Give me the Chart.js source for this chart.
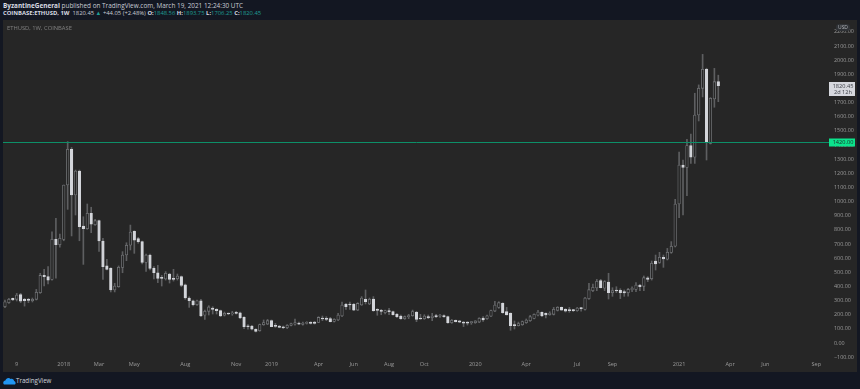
<!DOCTYPE html>
<html>
<head>
<meta charset="utf-8">
<title>ETHUSD</title>
<script src="https://cdn.jsdelivr.net/npm/chart.js@4/dist/chart.umd.min.js"></script>
<style>
  html, body { margin: 0; padding: 0; background: #131722; }
  body { width: 860px; height: 389px; position: relative; overflow: hidden; font-family: "Open Sans", sans-serif; }
  .line { position: absolute; left: 3px; white-space: nowrap; color: #c8ccd4; font-size: 6.4px; line-height: 9px; }
  .line b { color: #d8dbe2; font-weight: 700; }
  .line i { color: #1f9e94; font-style: normal; }
  #panel { position: absolute; left: 3px; top: 20px; width: 854px; height: 352px; background: #262626; }
  #panel canvas { position: absolute; left: 0; top: 0; }
  #symbol { position: absolute; left: 7px; top: 24px; color: #808080; font-size: 5.8px; line-height: 9px; white-space: nowrap; }
  #usd { position: absolute; left: 836px; top: 24px; width: 14px; height: 7px; line-height: 7px; border-radius: 3px; background: #2f3236; color: #b0b3b8; font-size: 5px; text-align: center; }
  #logo { position: absolute; left: 3px; top: 376px; }
  #brand { position: absolute; left: 16px; top: 376px; color: #d1d4dc; font-size: 6.2px; line-height: 10px; }
</style>
</head>
<body>
<div class="line" style="top:1px"><b>ByzantineGeneral</b> published on TradingView.com, March 19, 2021 12:24:30 UTC</div>
<div class="line" style="top:9px;font-size:5.85px"><b>COINBASE:ETHUSD, 1W</b>&nbsp; 1820.45 <i>&#9650;</i> +44.05 (+2.48%) <b>O:</b><i>1848.56</i> <b>H:</b><i>1893.75</i> <b>L:</b><i>1706.25</i> <b>C:</b><i>1820.45</i></div>
<div id="panel"><canvas id="chart" width="854" height="352"></canvas></div>
<div id="symbol">ETHUSD, 1W, COINBASE</div>
<div id="usd">USD</div>
<svg id="logo" width="13" height="9" viewBox="0 0 13 9"><path fill="#2196f3" d="M1 8.5 C-0.5 7 0.3 4.6 2.4 4.4 C3 2 6 1 7.6 3 C9.6 2.4 11 3.6 11 5 C12.6 5.4 13.2 7.4 12 8.5 Z"/></svg>
<div id="brand">TradingView</div>

<script>
// weekly candles
const opens = [
  257,285,316,309,342,309,304,299,309,356,
  478,469,450,733,695,733,1117,1369,1047,1216,
  827,808,917,837,865,721,545,528,375,398,
  535,622,691,790,738,717,570,622,528,497,
  460,453,488,457,455,469,412,318,299,271,
  299,196,224,247,238,229,196,207,205,214,
  214,181,120,120,97,87,130,134,158,120,
  120,115,108,125,134,141,132,139,146,148,
  146,174,172,172,153,163,191,273,271,273,
  233,269,309,276,311,233,229,214,229,222,
  203,191,172,186,193,217,172,172,184,179,
  191,189,193,186,144,160,156,148,146,144,
  144,148,177,172,189,226,252,280,222,210,
  127,123,130,144,158,174,196,217,210,200,
  203,231,252,238,233,233,229,247,238,313,
  370,389,441,387,431,356,372,372,363,356,
  375,379,410,401,460,455,580,570,606,592,
  641,684,983,1259,1242,1396,1314,1612,1801,1935,
  1412,1726,1848.56
];
const highs = [
  304,316,318,351,351,316,316,318,379,493,
  521,540,787,881,771,1117,1424,1383,1223,1223,
  893,983,960,875,870,740,592,533,422,545,
  646,709,834,794,747,721,629,629,540,549,
  478,505,493,521,488,474,417,327,304,304,
  309,233,264,257,243,233,219,212,224,224,
  219,186,130,125,101,134,163,167,163,139,
  125,120,130,141,170,148,148,151,151,153,
  186,191,186,181,172,210,290,280,290,280,
  285,328,375,318,328,243,238,233,245,226,
  210,198,191,203,233,224,203,200,198,210,
  203,203,200,191,167,163,160,153,151,153,
  158,179,186,198,233,295,292,285,252,214,
  156,148,156,170,196,207,231,221,214,221,
  252,257,255,243,252,238,252,250,323,422,
  417,450,450,441,493,391,398,384,375,386,
  398,427,415,474,469,580,622,641,622,669,
  717,1016,1350,1294,1440,1478,1766,1825,2041,1943,
  1735,1942,1893.75
];
const lows = [
  250,280,300,297,285,261,285,290,304,351,
  403,417,445,459,677,723,945,757,905,723,
  556,804,780,832,648,450,516,361,361,394,
  497,582,658,634,705,559,507,516,453,427,
  403,445,424,438,445,398,309,252,262,266,
  186,167,198,205,205,186,191,200,196,205,
  172,101,97,92,78,83,125,130,115,111,
  108,101,101,120,127,130,127,134,134,134,
  144,158,158,149,148,158,186,238,238,229,
  229,266,276,271,224,196,200,205,200,196,
  179,167,167,172,189,151,167,167,172,158,
  179,181,181,139,139,148,144,116,127,132,
  139,144,153,167,186,222,245,210,198,90,
  99,120,125,139,153,170,191,186,177,196,
  198,226,231,219,217,222,224,226,233,309,
  363,370,389,370,311,330,356,314,330,332,
  363,363,370,370,434,445,516,563,535,587,
  634,679,886,905,1042,1270,1270,1570,1740,1294,
  1407,1667,1706.25
];
const closes = [
  292,309,304,339,295,299,302,309,358,478,
  469,445,733,695,740,1117,1369,1047,1216,823,
  808,917,841,865,721,540,521,375,403,535,
  622,691,785,728,717,570,622,528,497,457,
  457,493,450,450,474,408,318,299,271,299,
  191,224,255,238,229,191,210,205,214,210,
  177,115,115,97,82,130,144,158,115,118,
  111,108,125,137,144,134,141,146,139,139,
  181,170,167,151,167,198,269,257,269,233,
  280,318,292,309,229,231,224,229,222,200,
  186,172,186,193,222,167,170,191,179,191,
  186,193,186,144,160,151,148,141,141,148,
  156,174,163,193,229,269,285,214,198,123,
  123,137,151,163,186,203,219,191,198,212,
  238,252,233,226,229,229,247,243,318,377,
  394,436,391,434,356,370,368,356,354,379,
  389,410,398,462,450,563,559,606,594,641,
  684,983,1259,1242,1396,1314,1612,1801,1935,1419,
  1730,1848,1820.45
];

const supportLevel = 1420;
const lastPrice = 1820.45;

const yTicks = [2200,2100,2000,1900,1800,1700,1600,1500,1400,1300,1200,1100,1000,900,800,700,600,500,400,300,200,100,0,-100];
const xTickWeeks = [3,15,24,33,46,59,68,80,89,98,107,120,133,146,155,172,185,194,207];
const xTickLabels = ["9","2018","Mar","May","Aug","Nov","2019","Apr","Jun","Aug","Oct","2020","Apr","Jul","Sep","2021","Apr","Jun","Sep"];

// one slot per week, the empty ones on the right are the space after the last candle
const categories = [];
for (let i = 0; i < 211; i++) {
  categories.push(new Date(Date.UTC(2017, 8, 18 + i * 7)).toISOString().slice(0, 10));
}

const upColor = "#262626";
const edgeColor = "#747679";
const downColor = "#d3d5da";
const wickColor = "#5e5f61";

// horizontal level and the two price tags on the axis
const priceTags = {
  id: "priceTags",
  afterDatasetsDraw(chart) {
    const { ctx, chartArea, scales } = chart;
    const y = Math.round(scales.y.getPixelForValue(supportLevel)) + 0.5;
    ctx.save();
    ctx.strokeStyle = "#0d8f68";
    ctx.lineWidth = 1;
    ctx.beginPath();
    ctx.moveTo(chartArea.left, y);
    ctx.lineTo(chartArea.right, y);
    ctx.stroke();

    ctx.textAlign = "center";
    ctx.textBaseline = "middle";
    ctx.font = '5.6px "Open Sans"';

    ctx.fillStyle = "#0be38c";
    ctx.fillRect(chartArea.right - 1, y - 4, 26, 8);
    ctx.fillStyle = "#1c2b26";
    ctx.fillText(supportLevel.toFixed(2), chartArea.right + 13, y);

    const py = Math.round(scales.y.getPixelForValue(lastPrice));
    ctx.fillStyle = "#d6d8de";
    ctx.fillRect(chartArea.right - 1, py - 4, 26, 14);
    ctx.fillStyle = "#3a3d44";
    ctx.fillText(lastPrice.toFixed(2), chartArea.right + 13, py);
    ctx.fillText("2d 12h", chartArea.right + 13, py + 6.5);
    ctx.restore();
  }
};

new Chart(document.getElementById("chart").getContext("2d"), {
  type: "bar",
  data: {
    labels: categories,
    datasets: [
      {
        label: "Wick",
        data: lows.map((l, i) => [l, highs[i]]),
        backgroundColor: wickColor,
        barThickness: 1,
        grouped: false,
        order: 2
      },
      {
        label: "Body",
        data: opens.map((o, i) => [o, closes[i]]),
        backgroundColor: opens.map((o, i) => (closes[i] >= o ? upColor : downColor)),
        borderColor: opens.map((o, i) => (closes[i] >= o ? edgeColor : downColor)),
        borderWidth: 0.8,
        borderSkipped: false,
        barThickness: 2.6,
        minBarLength: 1,
        grouped: false,
        order: 1
      }
    ]
  },
  options: {
    responsive: false,
    animation: false,
    layout: { padding: 0 },
    plugins: { legend: { display: false }, tooltip: { enabled: false } },
    scales: {
      x: {
        type: "category",
        grid: { display: false, drawTicks: false },
        border: { display: false },
        afterFit: (s) => { s.height = 14; s.paddingLeft = 0; s.paddingRight = 0; },
        afterBuildTicks: (s) => { s.ticks = xTickWeeks.map((v) => ({ value: v })); },
        ticks: {
          autoSkip: false,
          maxRotation: 0,
          padding: 3,
          color: "#9a9a9a",
          font: { family: "Open Sans", size: 5.6 },
          callback: (v) => xTickLabels[xTickWeeks.indexOf(v)]
        }
      },
      y: {
        position: "right",
        min: -106,
        max: 2284,
        grid: { display: false, drawTicks: false },
        border: { display: false },
        afterFit: (s) => { s.width = 27; s.paddingTop = 0; s.paddingBottom = 0; },
        afterBuildTicks: (s) => { s.ticks = yTicks.map((v) => ({ value: v })); },
        ticks: {
          padding: 4,
          color: "#9a9a9a",
          font: { family: "Open Sans", size: 5.4 },
          callback: (v) => (v < 0 ? "\u2212" + Math.abs(v).toFixed(2) : v.toFixed(2))
        }
      }
    }
  },
  plugins: [priceTags]
});
</script>
</body>
</html>
